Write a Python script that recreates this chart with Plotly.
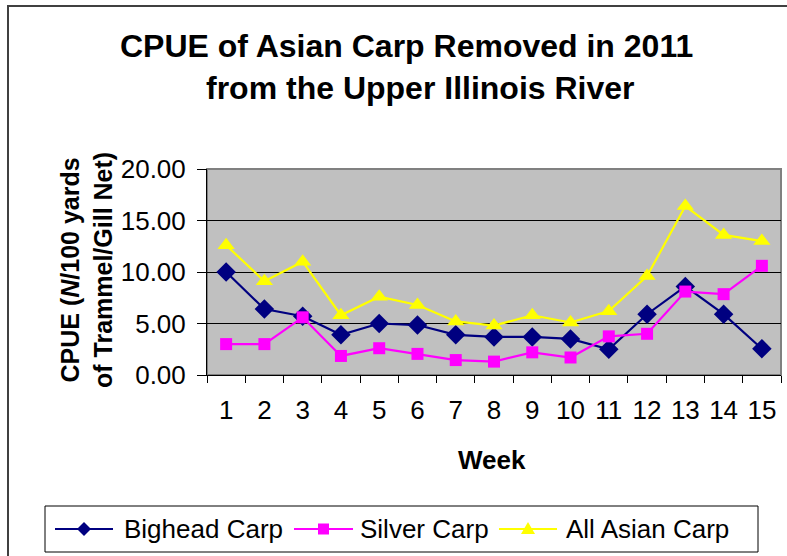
import plotly.graph_objects as go

weeks = [str(i) for i in range(1, 16)]
bighead = [10.0, 6.4, 5.7, 3.9, 5.0, 4.85, 3.9, 3.7, 3.7, 3.5, 2.5, 5.9, 8.6, 5.9, 2.55]
silver = [3.0, 3.0, 5.6, 1.85, 2.6, 2.05, 1.45, 1.3, 2.2, 1.7, 3.75, 4.0, 8.1, 7.85, 10.6]
all_carp = [12.6, 9.1, 11.0, 5.8, 7.6, 6.8, 5.2, 4.8, 5.8, 5.1, 6.2, 9.6, 16.4, 13.6, 13.0]
y_ticks = [0, 5, 10, 15, 20]
y_ticklabels = ["0.00", "5.00", "10.00", "15.00", "20.00"]
series_names = ["Bighead Carp", "Silver Carp", "All Asian Carp"]
series_colors = ["#000080", "#FF00FF", "#FFFF00"]

FONT = "Liberation Sans, Arial, sans-serif"

# plot area pixel geometry
L, R, T, B = 207, 781, 169, 375
W, H = 787, 556
pw, ph = R - L, B - T


def px(x):
    return (x - L) / pw


def py(y):
    return (B - y) / ph


fig = go.Figure()
fig.add_trace(go.Scatter(x=weeks, y=bighead, name=series_names[0], mode="lines+markers",
                         line=dict(color=series_colors[0], width=2.2),
                         marker=dict(symbol="diamond", size=15, color=series_colors[0])))
fig.add_trace(go.Scatter(x=weeks, y=silver, name=series_names[1], mode="lines+markers",
                         line=dict(color=series_colors[1], width=2.2),
                         marker=dict(symbol="square", size=12, color=series_colors[1])))
fig.add_trace(go.Scatter(x=weeks, y=all_carp, name=series_names[2], mode="lines+markers",
                         line=dict(color=series_colors[2], width=2.2),
                         marker=dict(symbol="triangle-up", size=15, color=series_colors[2])))

shapes = [
    dict(type="rect", xref="paper", yref="paper", x0=0, x1=1, y0=0, y1=1,
         line=dict(color="#808080", width=2), layer="below"),
    dict(type="rect", xref="paper", yref="paper",
         x0=px(8), x1=px(800), y0=py(6), y1=py(600),
         line=dict(color="#404040", width=2), layer="above"),
    # legend box
    dict(type="rect", xref="paper", yref="paper",
         x0=px(45), x1=px(758), y0=py(506), y1=py(552),
         line=dict(color="black", width=1), fillcolor="white", layer="above"),
]

annotations = [
    dict(text="<b>CPUE of Asian Carp Removed in 2011</b>", xref="paper", yref="paper",
         x=px(406), y=py(46), xanchor="center", yanchor="middle", showarrow=False,
         font=dict(size=32, family=FONT)),
    dict(text="<b>from the Upper Illinois River</b>", xref="paper", yref="paper",
         x=px(420), y=py(88), xanchor="center", yanchor="middle", showarrow=False,
         font=dict(size=32, family=FONT)),
    dict(text="<b>CPUE (<i>N</i>/100 yards<br>of Trammel/Gill Net)</b>", xref="paper", yref="paper",
         x=px(86), y=py(270), xanchor="center", yanchor="middle", showarrow=False,
         textangle=-90, font=dict(size=25, family=FONT)),
    dict(text="<b>Week</b>", xref="paper", yref="paper",
         x=px(492), y=py(460), xanchor="center", yanchor="middle", showarrow=False,
         font=dict(size=26, family=FONT)),
]

# manual legend (line segment, marker glyph, label)
leg_y = 529
leg_items = [(55, 113, 122, "diamond"), (294, 353, 358, "square"), (499, 557, 564, "triangle")]
for (lx0, lx1, tx, sym), name, col in zip(leg_items, series_names, series_colors):
    shapes.append(dict(type="line", xref="paper", yref="paper",
                       x0=px(lx0), x1=px(lx1), y0=py(leg_y), y1=py(leg_y),
                       line=dict(color=col, width=2), layer="above"))
    cx = (lx0 + lx1) / 2
    if sym == "diamond":
        d = 7
        path = (f"M{px(cx - d)},{py(leg_y)} L{px(cx)},{py(leg_y - d)} "
                f"L{px(cx + d)},{py(leg_y)} L{px(cx)},{py(leg_y + d)} Z")
    elif sym == "square":
        d = 5.5
        path = (f"M{px(cx - d)},{py(leg_y - d)} L{px(cx + d)},{py(leg_y - d)} "
                f"L{px(cx + d)},{py(leg_y + d)} L{px(cx - d)},{py(leg_y + d)} Z")
    else:
        d = 7
        path = (f"M{px(cx - d)},{py(leg_y + 5)} L{px(cx + d)},{py(leg_y + 5)} "
                f"L{px(cx)},{py(leg_y - 7)} Z")
    shapes.append(dict(type="path", xref="paper", yref="paper", path=path,
                       fillcolor=col, line=dict(color=col, width=0), layer="above"))
    annotations.append(dict(text=name, xref="paper", yref="paper",
                            x=px(tx), y=py(leg_y), xanchor="left", yanchor="middle",
                            showarrow=False, font=dict(size=26, family=FONT)))

fig.update_layout(
    width=W, height=H,
    margin=dict(l=L, r=W - R, t=T, b=H - B, autoexpand=False),
    paper_bgcolor="white",
    plot_bgcolor="#C0C0C0",
    font=dict(family=FONT, size=26, color="black"),
    showlegend=False,
    xaxis=dict(type="category", range=[-0.5, 14.5], tickson="boundaries",
               ticks="outside", ticklen=7, tickcolor="black", tickwidth=1,
               showline=True, linecolor="black", linewidth=1,
               showgrid=False, tickfont=dict(size=26), zeroline=False,
               ticklabelstandoff=12),
    yaxis=dict(range=[0, 20], tickvals=y_ticks, ticktext=y_ticklabels,
               ticks="outside", ticklen=9, tickcolor="black", tickwidth=1,
               showline=True, linecolor="black", linewidth=1,
               showgrid=True, gridcolor="black", gridwidth=1,
               tickfont=dict(size=26), zeroline=False,
               ticklabelstandoff=6),
    shapes=shapes,
    annotations=annotations,
)

fig.write_html("out.html", config={"displayModeBar": False},
               post_script="document.body.style.margin='0';")
